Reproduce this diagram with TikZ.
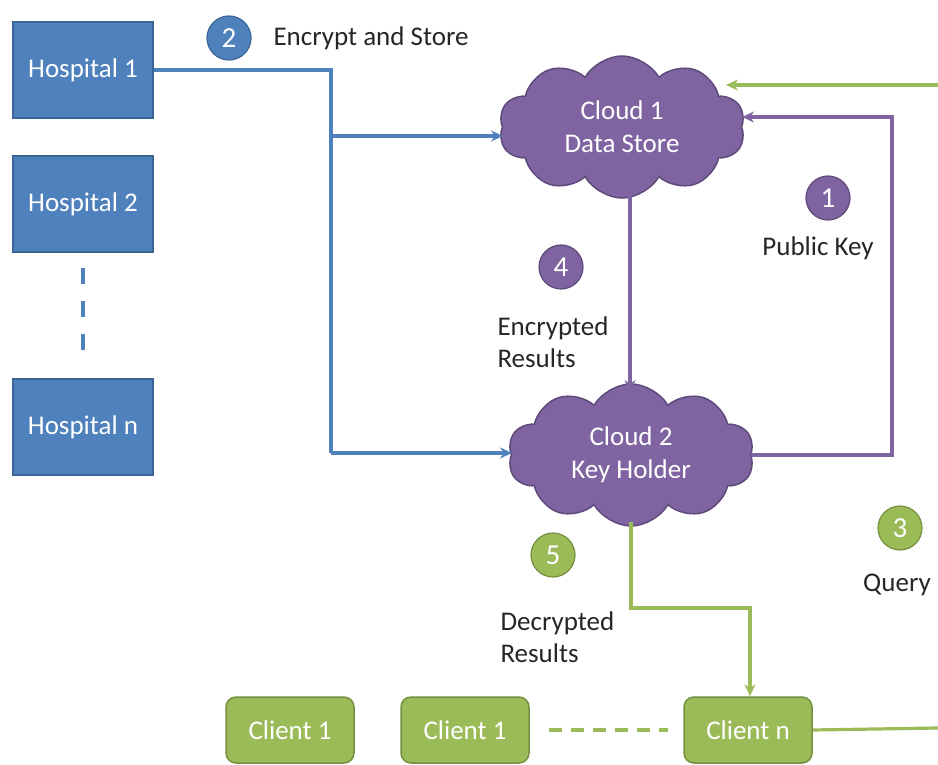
\documentclass[tikz,border=0pt]{standalone}
\usepackage{fontspec}
\setmainfont{Carlito}
\usetikzlibrary{shapes.symbols,arrows.meta}
\definecolor{hblue}{HTML}{4F81BD}
\definecolor{hblueD}{HTML}{3A6596}
\definecolor{cpurp}{HTML}{8064A2}
\definecolor{cpurpD}{HTML}{5E4A7A}
\definecolor{cgreen}{HTML}{9BBB59}
\definecolor{cgreenD}{HTML}{74903F}
\tikzset{
  txt/.style={font=\fontsize{27}{32}\selectfont, text=black!85},
  hosp/.style={rectangle, fill=hblue, draw=hblueD, line width=1.5pt,
    minimum width=140, minimum height=96, text=white,
    font=\fontsize{27}{32}\selectfont},
  client/.style={rectangle, rounded corners=10pt, fill=cgreen, draw=cgreenD,
    line width=1.5pt, minimum width=128, minimum height=66, text=white,
    font=\fontsize{27}{32}\selectfont},
  cloudnode/.style={cloud, cloud puffs=10, cloud puff arc=120, aspect=1.9,
    fill=cpurp, draw=cpurpD, line width=1.5pt, text=white, align=center,
    inner sep=0pt, font=\fontsize{27}{33}\selectfont},
  badge/.style={circle, minimum size=44, inner sep=0pt, text=white,
    line width=1.2pt, font=\fontsize{29}{30}\selectfont},
  bluebadge/.style={badge, fill=hblue, draw=hblueD},
  purpbadge/.style={badge, fill=cpurp, draw=cpurpD},
  greenbadge/.style={badge, fill=cgreen, draw=cgreenD},
  tip/.style={-{Stealth[length=12pt,width=11pt]}},
  blueline/.style={draw=hblue, line width=3.2pt},
  purpline/.style={draw=cpurp, line width=3.2pt},
  greenline/.style={draw=cgreen, line width=3.2pt},
}
\begin{document}
\begin{tikzpicture}[x=1pt,y=-1pt]
\useasboundingbox (0,0) rectangle (938,765);

% hospitals
\node[hosp] (h1) at (83,70) {Hospital 1};
\node[hosp] (h2) at (83,204) {Hospital 2};
\node[hosp] (hn) at (83,427) {Hospital n};
\coordinate (dtop) at (83,268);
\coordinate (dbot) at (83,355);
\draw[hblue, line width=4pt, dash pattern=on 16pt off 17pt] (dtop) -- (dbot);

% clouds
\node[cloudnode, minimum width=246, minimum height=142] (c1) at (622,127) {Cloud 1\\Data Store};
\node[cloudnode, minimum width=246, minimum height=142] (c2) at (631,455) {Cloud 2\\Key Holder};

% clients
\node[client] (k1) at (290,730) {Client 1};
\node[client] (k2) at (465,730) {Client 1};
\node[client] (kn) at (748,730) {Client n};
\coordinate (gd1) at (549,730);
\coordinate (gd2) at (668,730);
\draw[cgreen, line width=3.2pt, dash pattern=on 13pt off 9pt] (gd1) -- (gd2);

% step 2: encrypt and store
\node[bluebadge] (b2) at (229,38) {2};
\node[txt, anchor=west] (l2) at (270,38) {Encrypt and Store};
\coordinate (bus) at (331,70);
\coordinate (busA) at (331,136);
\coordinate (busB) at (331,453);
\draw[blueline] (h1.east) -- (bus) -- (busB);
\draw[blueline, tip] (busA) -- (503,136) coordinate (c1in);
\draw[blueline, tip] (busB) -- (512,453) coordinate (c2in);

% step 1: public key
\node[purpbadge] (b1) at (828,198) {1};
\node[txt] (l1) at (818,248) {Public Key};
\coordinate (pkR) at (892,455);
\coordinate (pkT) at (892,117);
\draw[purpline, tip] (c2.east |- pkR) -- (pkR) -- (pkT) -- (742,117) coordinate (c1pk);

% step 4: encrypted results
\node[purpbadge] (b4) at (561,267) {4};
\node[txt, align=left, anchor=west] (l4) at (494,342) {Encrypted\\Results};
\draw[purpline, tip] (630,194) coordinate (c1out) -- (630,392) coordinate (c2top);

% step 3: query
\node[greenbadge] (b3) at (900,528) {3};
\node[txt] (l3) at (897,585) {Query};
\coordinate (qR) at (938,728);
\coordinate (qT) at (938,85);
\draw[greenline] (kn.east) -- (qR);
\draw[greenline, tip] (qT) -- (726,85) coordinate (c1q);

% step 5: decrypted results
\node[greenbadge] (b5) at (553,555) {5};
\node[txt, align=left, anchor=west] (l5) at (497,637) {Decrypted\\Results};
\coordinate (dr1) at (631,608);
\coordinate (dr2) at (750,608);
\draw[greenline, tip] (631,522) coordinate (c2out) -- (dr1) -- (dr2) -- (kn.north -| dr2);
\end{tikzpicture}
\end{document}
